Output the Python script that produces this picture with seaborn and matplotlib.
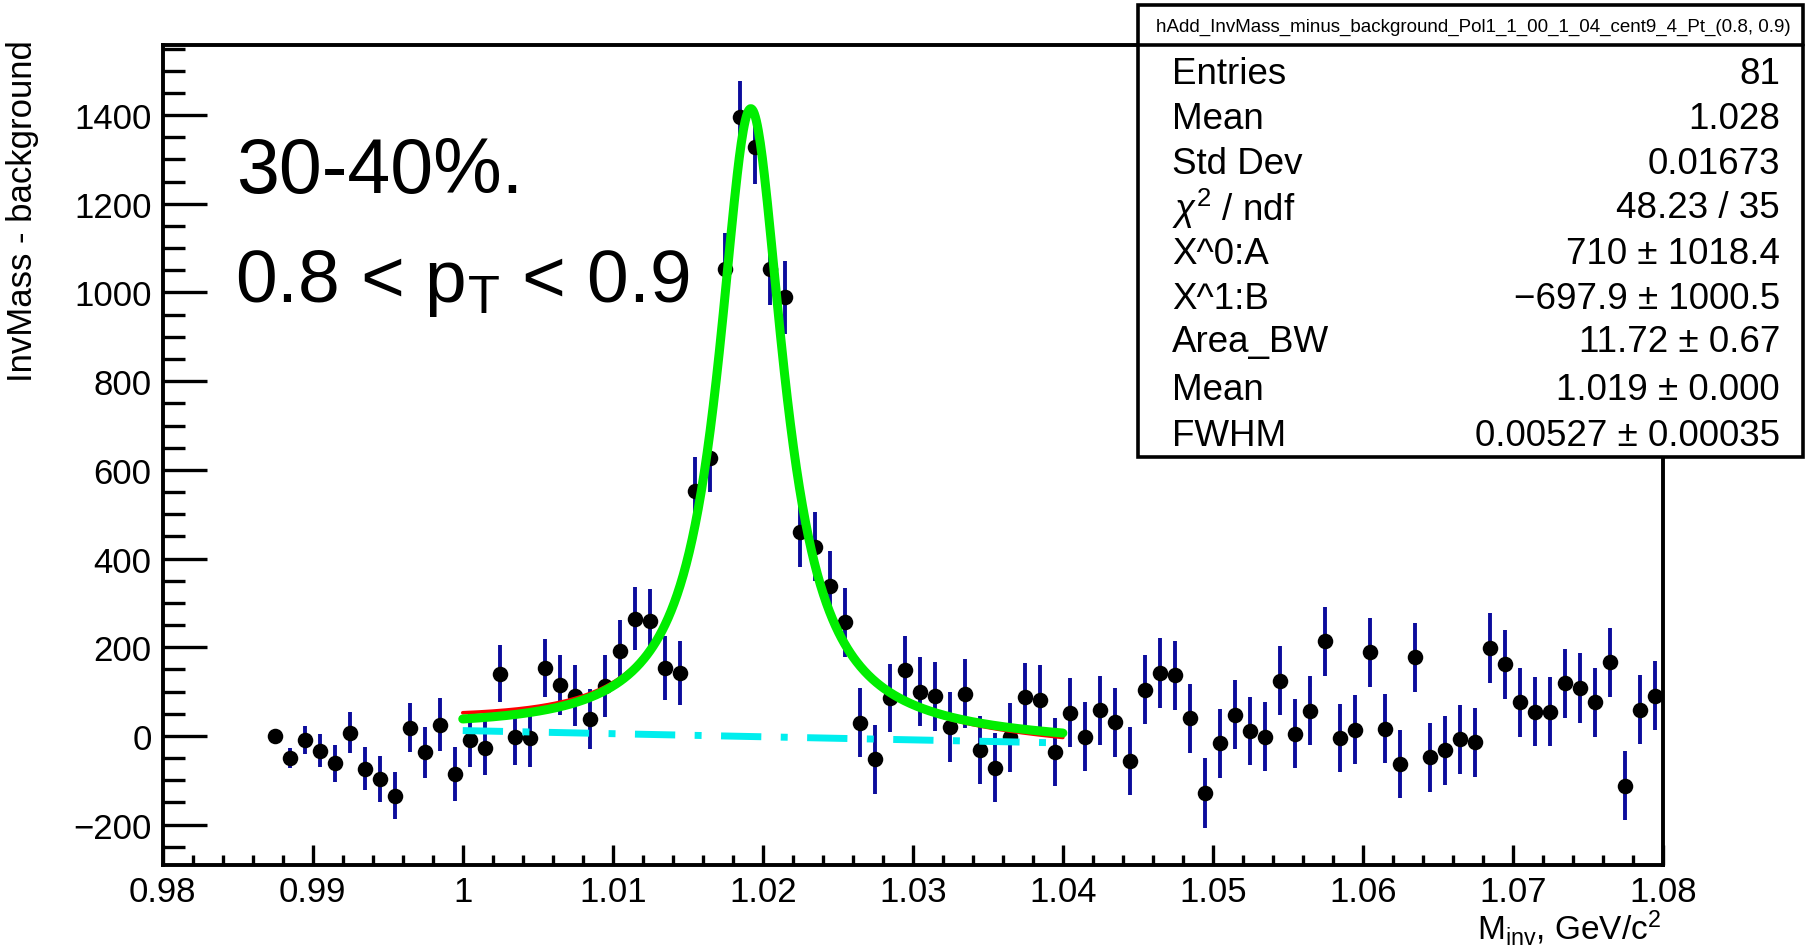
import numpy as np
import pandas as pd
import matplotlib
matplotlib.use("Agg")
import matplotlib.pyplot as plt
from matplotlib.patches import Rectangle
from matplotlib.lines import Line2D
from matplotlib.ticker import MultipleLocator, FixedLocator
import seaborn as sns

# ---------------- data ----------------
mass_bins = [
    0.9875, 0.9885, 0.9895, 0.9905, 0.9915, 0.9925, 0.9935, 0.9945, 0.9955, 0.9965,
    0.9975, 0.9985, 0.9995, 1.0005, 1.0015, 1.0025, 1.0035, 1.0045, 1.0055, 1.0065,
    1.0075, 1.0085, 1.0095, 1.0105, 1.0115, 1.0125, 1.0135, 1.0145, 1.0155, 1.0165,
    1.0175, 1.0185, 1.0195, 1.0205, 1.0215, 1.0225, 1.0235, 1.0245, 1.0255, 1.0265,
    1.0275, 1.0285, 1.0295, 1.0305, 1.0315, 1.0325, 1.0335, 1.0345, 1.0355, 1.0365,
    1.0375, 1.0385, 1.0395, 1.0405, 1.0415, 1.0425, 1.0435, 1.0445, 1.0455, 1.0465,
    1.0475, 1.0485, 1.0495, 1.0505, 1.0515, 1.0525, 1.0535, 1.0545, 1.0555, 1.0565,
    1.0575, 1.0585, 1.0595, 1.0605, 1.0615, 1.0625, 1.0635, 1.0645, 1.0655, 1.0665,
    1.0675, 1.0685, 1.0695, 1.0705, 1.0715, 1.0725, 1.0735, 1.0745, 1.0755, 1.0765,
    1.0775, 1.0785, 1.0795,
]
counts = [
    0, -50, -9, -33, -62, 7, -74, -97, -135, 19,
    -37, 25, -86, -9, -27, 140, -2, -4, 153, 115,
    91, 38, 113, 192, 264, 260, 153, 142, 552, 627,
    1053, 1395, 1327, 1053, 989, 459, 427, 339, 256, 30,
    -53, 85, 148, 100, 89, 20, 95, -32, -72, -3,
    87, 82, -36, 52, -2, 58, 31, -57, 104, 142,
    137, 40, -129, -17, 48, 11, -2, 125, 5, 57,
    213, -5, 14, 189, 16, -63, 177, -48, -32, -8,
    -14, 198, 162, 76, 55, 55, 119, 108, 76, 166,
    -112, 59, 91,
]
errors = [
    10, 22, 32, 38, 42, 46, 48, 52, 53, 56,
    58, 60, 60, 60, 62, 64, 64, 66, 66, 68,
    68, 68, 70, 70, 71, 72, 72, 73, 76, 76,
    80, 82, 83, 82, 82, 78, 78, 78, 78, 77,
    78, 77, 78, 78, 77, 78, 78, 77, 78, 78,
    78, 78, 77, 78, 78, 78, 78, 77, 78, 78,
    78, 78, 79, 78, 78, 77, 78, 78, 78, 78,
    78, 77, 78, 78, 78, 77, 78, 78, 78, 78,
    78, 79, 78, 78, 78, 78, 78, 78, 78, 78,
    78, 78, 78,
]

# fit parameters (from the stats box)
pol_A = 710.0
pol_B = -697.9
area_bw = 11.72
bw_mean = 1.0192
bw_fwhm = 0.00527
fit_range = (1.00, 1.04)
# second (red) fit drawn underneath
red_A = 1324.0
red_B = -1297.9

stats_title = "hAdd_InvMass_minus_background_Pol1_1_00_1_04_cent9_4_Pt_(0.8, 0.9)"
stats_names = ["Entries", "Mean", "Std Dev", r"$\chi^{2}$ / ndf", "X^0:A", "X^1:B",
               "Area_BW", "Mean", "FWHM"]
stats_values = ["81", "1.028", "0.01673", "48.23 / 35", "710 \u00b1 1018.4",
                "\u2212697.9 \u00b1 1000.5", "11.72 \u00b1 0.67", "1.019 \u00b1 0.000",
                "0.00527 \u00b1 0.00035"]

x_ticks = [0.98, 0.99, 1.0, 1.01, 1.02, 1.03, 1.04, 1.05, 1.06, 1.07, 1.08]
x_ticklabels = ["0.98", "0.99", "1", "1.01", "1.02", "1.03", "1.04", "1.05", "1.06", "1.07", "1.08"]
y_ticks = [-200, 0, 200, 400, 600, 800, 1000, 1200, 1400]
y_ticklabels = ["\u2212200", "0", "200", "400", "600", "800", "1000", "1200", "1400"]

# ---------------- style ----------------
sns.set_theme(style="ticks")
plt.rcParams["font.family"] = ["Liberation Sans", "DejaVu Sans"]
plt.rcParams["mathtext.fontset"] = "custom"
plt.rcParams["mathtext.rm"] = "Liberation Sans"
plt.rcParams["mathtext.it"] = "Liberation Sans:italic"
plt.rcParams["mathtext.bf"] = "Liberation Sans:bold"
plt.rcParams["axes.unicode_minus"] = True

W, H = 1807, 953
fig = plt.figure(figsize=(W / 100, H / 100), dpi=100)
fig.patch.set_facecolor("white")

def fx(px):
    return px / W

def fy(py):
    return 1 - py / H

ax = fig.add_axes([fx(162.7), fy(866), fx(1663) - fx(162.7), fy(46) - fy(866)])
ax.set_facecolor("white")

df = pd.DataFrame({"m": mass_bins, "n": counts, "e": errors})

# error bars
ax.errorbar(df["m"], df["n"], yerr=df["e"], fmt="none", ecolor="#0c0c9c",
            elinewidth=2.8, capsize=0, zorder=2)
# markers
sns.scatterplot(data=df, x="m", y="n", ax=ax, color="black", s=125, marker="o",
                edgecolor="black", linewidth=0, zorder=3, legend=False)

# fit curves
xf = np.linspace(fit_range[0], fit_range[1], 600)
bw = area_bw * (bw_fwhm / (2 * np.pi)) / ((xf - bw_mean) ** 2 + bw_fwhm ** 2 / 4)
bg = pol_A + pol_B * xf
bg_red = red_A + red_B * xf
curves = pd.DataFrame({"x": xf, "bg": bg, "tot": bw + bg, "red": bw + bg_red})

sns.lineplot(data=curves, x="x", y="bg", ax=ax, color="#00eeee", lw=5.0,
             zorder=4, sort=False, estimator=None)
ax.lines[-1].set_dashes([5.8, 2.8, 1.0, 2.8])
ax.lines[-1].set_dash_capstyle("butt")
sns.lineplot(data=curves, x="x", y="red", ax=ax, color="#ff0000", lw=2.6,
             zorder=5, sort=False, estimator=None)
sns.lineplot(data=curves, x="x", y="tot", ax=ax, color="#00ee00", lw=6.5,
             zorder=6, sort=False, estimator=None)

# axes
ax.set_xlim(0.98, 1.08)
ax.set_ylim(-291, 1558)
ax.set_xlabel("")
ax.set_ylabel("")
ax.xaxis.set_major_locator(FixedLocator(x_ticks))
ax.set_xticklabels(x_ticklabels)
ax.xaxis.set_minor_locator(MultipleLocator(0.002))
ax.yaxis.set_major_locator(FixedLocator(y_ticks))
ax.set_yticklabels(y_ticklabels)
ax.yaxis.set_minor_locator(MultipleLocator(50))
ax.tick_params(axis="both", which="both", direction="in", top=False, right=False,
               colors="black", labelsize=25, width=2.4)
ax.tick_params(axis="x", which="major", length=14.5, pad=7)
ax.tick_params(axis="x", which="minor", length=7.5)
ax.tick_params(axis="y", which="major", length=32, pad=8)
ax.tick_params(axis="y", which="minor", length=16)
for s in ax.spines.values():
    s.set_visible(True)
    s.set_linewidth(2.8)
    s.set_color("black")

# axis titles
fig.text(fx(23), fy(40), "InvMass - background", rotation=90, ha="center", va="top",
         fontsize=25, color="black")
fig.text(fx(1661), fy(928), r"M$_{\mathregular{inv}}$, GeV/c$^{\mathregular{2}}$",
         ha="right", va="center", fontsize=24, color="black")

# annotations
fig.text(fx(236), fy(193), "30-40%.", ha="left", va="baseline", fontsize=55.5, color="black")
fig.text(fx(235), fy(302), r"0.8 < p$_{\mathregular{T}}$ < 0.9", ha="left", va="baseline",
         fontsize=54, color="black")

# stats box
bx0, bx1, by0, by1, bsep = 1138, 1803, 6, 458, 46
fig.patches.append(Rectangle((fx(bx0), fy(by1)), fx(bx1) - fx(bx0), fy(by0) - fy(by1),
                             transform=fig.transFigure, facecolor="white",
                             edgecolor="black", linewidth=2.6, zorder=10))
fig.lines.append(Line2D([fx(bx0), fx(bx1)], [fy(bsep), fy(bsep)], transform=fig.transFigure,
                        color="black", linewidth=2.6, zorder=11))
fig.text(fx(1473), fy(27), stats_title, ha="center", va="center", fontsize=13.5,
         color="black", zorder=12)
row_y = [75, 120, 165, 209, 254, 300, 343, 390, 436]
for name, val, yy in zip(stats_names, stats_values, row_y):
    fig.text(fx(1172), fy(yy), name, ha="left", va="center", fontsize=26.5,
             color="black", zorder=12)
    fig.text(fx(1780), fy(yy), val, ha="right", va="center", fontsize=26.5,
             color="black", zorder=12)

fig.savefig("out.png", dpi=100, facecolor="white")
